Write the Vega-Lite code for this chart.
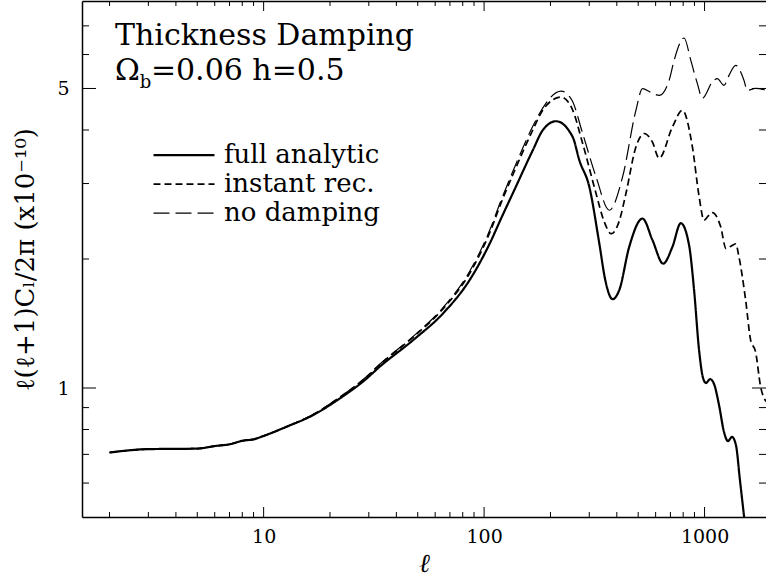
{
  "$schema": "https://vega.github.io/schema/vega-lite/v6.json",
  "width": 684,
  "height": 516,
  "autosize": {"type": "none"},
  "padding": {"left": 82, "top": 1, "right": 0, "bottom": 63},
  "background": "white",
  "config": {"view": {"stroke": null}, "font": "DejaVu Serif"},
  "datasets": {
    "xmaj": [{"v": 10}, {"v": 100}, {"v": 1000}],
    "xmin": [{"v": 2}, {"v": 3}, {"v": 4}, {"v": 5}, {"v": 6}, {"v": 7}, {"v": 8}, {"v": 9}, {"v": 20}, {"v": 30}, {"v": 40}, {"v": 50}, {"v": 60}, {"v": 70}, {"v": 80}, {"v": 90}, {"v": 200}, {"v": 300}, {"v": 400}, {"v": 500}, {"v": 600}, {"v": 700}, {"v": 800}, {"v": 900}],
    "ymaj": [{"v": 1}, {"v": 5}],
    "ymin": [{"v": 0.6}, {"v": 0.7}, {"v": 0.8}, {"v": 0.9}, {"v": 2}, {"v": 3}, {"v": 4}, {"v": 6}, {"v": 7}]
  },
  "data": {"values": [
    {"s": "full analytic", "l": 2, "c": 0.707},
    {"s": "full analytic", "l": 3, "c": 0.72},
    {"s": "full analytic", "l": 5, "c": 0.722},
    {"s": "full analytic", "l": 6, "c": 0.732},
    {"s": "full analytic", "l": 7, "c": 0.739},
    {"s": "full analytic", "l": 8.1, "c": 0.754},
    {"s": "full analytic", "l": 9, "c": 0.759},
    {"s": "full analytic", "l": 10, "c": 0.773},
    {"s": "full analytic", "l": 12.7, "c": 0.812},
    {"s": "full analytic", "l": 16.8, "c": 0.865},
    {"s": "full analytic", "l": 22.2, "c": 0.946},
    {"s": "full analytic", "l": 28.8, "c": 1.044},
    {"s": "full analytic", "l": 33.6, "c": 1.121},
    {"s": "full analytic", "l": 47.7, "c": 1.294},
    {"s": "full analytic", "l": 65.1, "c": 1.493},
    {"s": "full analytic", "l": 85.9, "c": 1.785},
    {"s": "full analytic", "l": 105.9, "c": 2.17},
    {"s": "full analytic", "l": 120, "c": 2.5},
    {"s": "full analytic", "l": 137, "c": 2.894},
    {"s": "full analytic", "l": 166.3, "c": 3.587},
    {"s": "full analytic", "l": 184.5, "c": 3.994},
    {"s": "full analytic", "l": 212.2, "c": 4.193},
    {"s": "full analytic", "l": 252.3, "c": 3.853},
    {"s": "full analytic", "l": 270.4, "c": 3.4},
    {"s": "full analytic", "l": 300.2, "c": 2.946},
    {"s": "full analytic", "l": 333.1, "c": 2.175},
    {"s": "full analytic", "l": 354.6, "c": 1.785},
    {"s": "full analytic", "l": 382.6, "c": 1.612},
    {"s": "full analytic", "l": 410.3, "c": 1.692},
    {"s": "full analytic", "l": 455.3, "c": 2.135},
    {"s": "full analytic", "l": 523.1, "c": 2.486},
    {"s": "full analytic", "l": 580.5, "c": 2.213},
    {"s": "full analytic", "l": 649, "c": 1.951},
    {"s": "full analytic", "l": 715, "c": 2.135},
    {"s": "full analytic", "l": 780.3, "c": 2.424},
    {"s": "full analytic", "l": 850.9, "c": 2.154},
    {"s": "full analytic", "l": 896.5, "c": 1.692},
    {"s": "full analytic", "l": 944.3, "c": 1.226},
    {"s": "full analytic", "l": 984.5, "c": 1.055},
    {"s": "full analytic", "l": 1015.7, "c": 1.027},
    {"s": "full analytic", "l": 1059, "c": 1.049},
    {"s": "full analytic", "l": 1104, "c": 1.022},
    {"s": "full analytic", "l": 1163, "c": 0.913},
    {"s": "full analytic", "l": 1225, "c": 0.79},
    {"s": "full analytic", "l": 1277, "c": 0.752},
    {"s": "full analytic", "l": 1332, "c": 0.769},
    {"s": "full analytic", "l": 1388, "c": 0.736},
    {"s": "full analytic", "l": 1447, "c": 0.61},
    {"s": "full analytic", "l": 1512, "c": 0.5},

    {"s": "instant rec.", "l": 2, "c": 0.707},
    {"s": "instant rec.", "l": 3, "c": 0.72},
    {"s": "instant rec.", "l": 5, "c": 0.722},
    {"s": "instant rec.", "l": 6, "c": 0.732},
    {"s": "instant rec.", "l": 7, "c": 0.739},
    {"s": "instant rec.", "l": 8.1, "c": 0.754},
    {"s": "instant rec.", "l": 9, "c": 0.759},
    {"s": "instant rec.", "l": 10, "c": 0.773},
    {"s": "instant rec.", "l": 12.7, "c": 0.812},
    {"s": "instant rec.", "l": 16.8, "c": 0.867},
    {"s": "instant rec.", "l": 22.2, "c": 0.952},
    {"s": "instant rec.", "l": 28.8, "c": 1.053},
    {"s": "instant rec.", "l": 33.6, "c": 1.133},
    {"s": "instant rec.", "l": 47.7, "c": 1.315},
    {"s": "instant rec.", "l": 65.1, "c": 1.53},
    {"s": "instant rec.", "l": 85.9, "c": 1.85},
    {"s": "instant rec.", "l": 105.9, "c": 2.3},
    {"s": "instant rec.", "l": 120, "c": 2.72},
    {"s": "instant rec.", "l": 137, "c": 3.2},
    {"s": "instant rec.", "l": 166.3, "c": 4.0},
    {"s": "instant rec.", "l": 184.5, "c": 4.45},
    {"s": "instant rec.", "l": 223.6, "c": 4.775},
    {"s": "instant rec.", "l": 250, "c": 4.5},
    {"s": "instant rec.", "l": 280, "c": 3.72},
    {"s": "instant rec.", "l": 322, "c": 2.843},
    {"s": "instant rec.", "l": 350, "c": 2.45},
    {"s": "instant rec.", "l": 377.5, "c": 2.291},
    {"s": "instant rec.", "l": 410, "c": 2.45},
    {"s": "instant rec.", "l": 439.9, "c": 2.843},
    {"s": "instant rec.", "l": 488.3, "c": 3.652},
    {"s": "instant rec.", "l": 532.4, "c": 3.925},
    {"s": "instant rec.", "l": 580, "c": 3.75},
    {"s": "instant rec.", "l": 622.5, "c": 3.437},
    {"s": "instant rec.", "l": 715, "c": 4.066},
    {"s": "instant rec.", "l": 793.5, "c": 4.446},
    {"s": "instant rec.", "l": 880.8, "c": 3.652},
    {"s": "instant rec.", "l": 944.3, "c": 2.802},
    {"s": "instant rec.", "l": 994.8, "c": 2.464},
    {"s": "instant rec.", "l": 1040, "c": 2.52},
    {"s": "instant rec.", "l": 1084.7, "c": 2.567},
    {"s": "instant rec.", "l": 1183.8, "c": 2.377},
    {"s": "instant rec.", "l": 1251.4, "c": 2.115},
    {"s": "instant rec.", "l": 1318, "c": 2.143},
    {"s": "instant rec.", "l": 1384.5, "c": 2.17},
    {"s": "instant rec.", "l": 1432.4, "c": 2.023},
    {"s": "instant rec.", "l": 1536, "c": 1.604},
    {"s": "instant rec.", "l": 1618, "c": 1.294},
    {"s": "instant rec.", "l": 1705, "c": 1.213},
    {"s": "instant rec.", "l": 1796, "c": 1.007},
    {"s": "instant rec.", "l": 1900, "c": 0.93},

    {"s": "no damping", "l": 2, "c": 0.707},
    {"s": "no damping", "l": 3, "c": 0.72},
    {"s": "no damping", "l": 5, "c": 0.722},
    {"s": "no damping", "l": 6, "c": 0.732},
    {"s": "no damping", "l": 7, "c": 0.739},
    {"s": "no damping", "l": 8.1, "c": 0.754},
    {"s": "no damping", "l": 9, "c": 0.759},
    {"s": "no damping", "l": 10, "c": 0.773},
    {"s": "no damping", "l": 12.7, "c": 0.812},
    {"s": "no damping", "l": 16.8, "c": 0.868},
    {"s": "no damping", "l": 22.2, "c": 0.953},
    {"s": "no damping", "l": 28.8, "c": 1.055},
    {"s": "no damping", "l": 33.6, "c": 1.136},
    {"s": "no damping", "l": 47.7, "c": 1.32},
    {"s": "no damping", "l": 65.1, "c": 1.54},
    {"s": "no damping", "l": 85.9, "c": 1.87},
    {"s": "no damping", "l": 105.9, "c": 2.33},
    {"s": "no damping", "l": 120, "c": 2.76},
    {"s": "no damping", "l": 137, "c": 3.26},
    {"s": "no damping", "l": 166.3, "c": 4.08},
    {"s": "no damping", "l": 178.3, "c": 4.37},
    {"s": "no damping", "l": 223.6, "c": 4.93},
    {"s": "no damping", "l": 250, "c": 4.7},
    {"s": "no damping", "l": 280, "c": 3.925},
    {"s": "no damping", "l": 322, "c": 3.109},
    {"s": "no damping", "l": 369.8, "c": 2.599},
    {"s": "no damping", "l": 424.8, "c": 3.109},
    {"s": "no damping", "l": 488.3, "c": 4.446},
    {"s": "no damping", "l": 523.1, "c": 4.996},
    {"s": "no damping", "l": 570, "c": 4.9},
    {"s": "no damping", "l": 622.5, "c": 4.819},
    {"s": "no damping", "l": 690.8, "c": 5.224},
    {"s": "no damping", "l": 727.8, "c": 5.816},
    {"s": "no damping", "l": 807.7, "c": 6.558},
    {"s": "no damping", "l": 866.2, "c": 5.816},
    {"s": "no damping", "l": 927.9, "c": 5.131},
    {"s": "no damping", "l": 977.2, "c": 4.742},
    {"s": "no damping", "l": 1084.7, "c": 5.176},
    {"s": "no damping", "l": 1142.6, "c": 5.272},
    {"s": "no damping", "l": 1225, "c": 5.085},
    {"s": "no damping", "l": 1291, "c": 5.365},
    {"s": "no damping", "l": 1384.5, "c": 5.661},
    {"s": "no damping", "l": 1509, "c": 5.224},
    {"s": "no damping", "l": 1562, "c": 4.95},
    {"s": "no damping", "l": 1705, "c": 5.004},
    {"s": "no damping", "l": 1900, "c": 4.95}
  ]},
  "layer": [
    {
      "mark": {"type": "line", "color": "black", "interpolate": "monotone"},
      "encoding": {
        "x": {
          "field": "l", "type": "quantitative",
          "scale": {"type": "log", "domain": [1.5, 1900], "nice": false},
          "axis": {
            "orient": "bottom",
            "values": [10, 100, 1000],
            "format": "d",
            "ticks": false,
            "domainColor": "black", "domainWidth": 1.5,
            "labelFont": "DejaVu Serif", "labelFontSize": 19, "labelColor": "black",
            "labelPadding": 10,
            "grid": false,
            "title": "ℓ", "titleFont": "DejaVu Serif", "titleFontStyle": "italic", "titleFontWeight": "normal",
            "titleFontSize": 26, "titleColor": "black", "titlePadding": 4
          }
        },
        "y": {
          "field": "c", "type": "quantitative",
          "scale": {"type": "log", "domain": [0.5, 8], "nice": false},
          "axis": {
            "orient": "left",
            "values": [1, 5],
            "format": "d",
            "ticks": false,
            "domainColor": "black", "domainWidth": 1.5,
            "labelFont": "DejaVu Serif", "labelFontSize": 19, "labelColor": "black",
            "labelPadding": 13,
            "grid": false,
            "title": "ℓ(ℓ+1)Cₗ/2π  (x10⁻¹⁰)", "titleFont": "DejaVu Serif", "titleFontWeight": "normal",
            "titleFontSize": 26, "titleColor": "black", "titlePadding": 18
          }
        },
        "strokeDash": {
          "field": "s", "type": "nominal",
          "scale": {"domain": ["full analytic", "instant rec.", "no damping"], "range": [[1, 0], [7, 4], [16, 6]]},
          "legend": {
            "title": null, "orient": "none", "legendX": 70, "legendY": 140,
            "symbolType": "stroke", "symbolSize": 3721, "symbolStrokeColor": "black",
            "labelFont": "DejaVu Serif", "labelFontSize": 26, "labelColor": "black",
            "labelOffset": 8, "clipHeight": 28.3, "rowPadding": 0, "padding": 0
          }
        },
        "strokeWidth": {
          "field": "s", "type": "nominal",
          "scale": {"domain": ["full analytic", "instant rec.", "no damping"], "range": [2.2, 1.2, 1.2]},
          "legend": {
            "title": null, "orient": "none", "legendX": 70, "legendY": 140,
            "symbolType": "stroke", "symbolSize": 3721, "symbolStrokeColor": "black",
            "labelFont": "DejaVu Serif", "labelFontSize": 26, "labelColor": "black",
            "labelOffset": 8, "clipHeight": 28.3, "rowPadding": 0, "padding": 0
          }
        }
      }
    },
    {
      "mark": {"type": "line", "opacity": 0},
      "encoding": {
        "x": {
          "field": "l", "type": "quantitative",
          "axis": {
            "orient": "top", "values": [10],
            "labels": false, "ticks": false,
            "domain": true, "domainColor": "black", "domainWidth": 1.5, "grid": false, "title": null
          }
        },
        "y": {"field": "c", "type": "quantitative", "axis": null}
      }
    },
    {
      "data": {"name": "xmaj"},
      "mark": {"type": "rule", "color": "black", "strokeWidth": 1},
      "encoding": {
        "x": {"field": "v", "type": "quantitative", "axis": null},
        "y": {"datum": 0.5, "type": "quantitative", "axis": null},
        "y2": {"datum": 0.5276}
      }
    },
    {
      "data": {"name": "xmin"},
      "mark": {"type": "rule", "color": "black", "strokeWidth": 1},
      "encoding": {
        "x": {"field": "v", "type": "quantitative", "axis": null},
        "y": {"datum": 0.5, "type": "quantitative", "axis": null},
        "y2": {"datum": 0.5136}
      }
    },
    {
      "data": {"name": "xmaj"},
      "mark": {"type": "rule", "color": "black", "strokeWidth": 1},
      "encoding": {
        "x": {"field": "v", "type": "quantitative", "axis": null},
        "y": {"datum": 8, "type": "quantitative", "axis": null},
        "y2": {"datum": 7.581}
      }
    },
    {
      "data": {"name": "xmin"},
      "mark": {"type": "rule", "color": "black", "strokeWidth": 1},
      "encoding": {
        "x": {"field": "v", "type": "quantitative", "axis": null},
        "y": {"datum": 8, "type": "quantitative", "axis": null},
        "y2": {"datum": 7.788}
      }
    },
    {
      "data": {"name": "ymaj"},
      "mark": {"type": "rule", "color": "black", "strokeWidth": 1},
      "encoding": {
        "y": {"field": "v", "type": "quantitative", "axis": null},
        "x": {"datum": 1.5, "type": "quantitative", "axis": null},
        "x2": {"datum": 1.736}
      }
    },
    {
      "data": {"name": "ymin"},
      "mark": {"type": "rule", "color": "black", "strokeWidth": 1},
      "encoding": {
        "y": {"field": "v", "type": "quantitative", "axis": null},
        "x": {"datum": 1.5, "type": "quantitative", "axis": null},
        "x2": {"datum": 1.614}
      }
    },
    {
      "data": {"name": "ymaj"},
      "mark": {"type": "rule", "color": "black", "strokeWidth": 1},
      "encoding": {
        "y": {"field": "v", "type": "quantitative", "axis": null},
        "x": {"datum": 1900, "type": "quantitative", "axis": null},
        "x2": {"datum": 1641.5}
      }
    },
    {
      "data": {"name": "ymin"},
      "mark": {"type": "rule", "color": "black", "strokeWidth": 1},
      "encoding": {
        "y": {"field": "v", "type": "quantitative", "axis": null},
        "x": {"datum": 1900, "type": "quantitative", "axis": null},
        "x2": {"datum": 1766}
      }
    },
    {
      "data": {"values": [{}]},
      "mark": {"type": "text", "text": "Thickness Damping", "align": "left", "baseline": "alphabetic", "font": "DejaVu Serif", "fontSize": 30, "color": "black"},
      "encoding": {
        "x": {"datum": 2.118, "type": "quantitative", "axis": null},
        "y": {"datum": 6.32, "type": "quantitative", "axis": null}
      }
    },
    {
      "data": {"values": [{}]},
      "mark": {"type": "text", "text": "Ω", "align": "left", "baseline": "alphabetic", "font": "DejaVu Serif", "fontSize": 30, "color": "black"},
      "encoding": {
        "x": {"datum": 2.118, "type": "quantitative", "axis": null},
        "y": {"datum": 5.234, "type": "quantitative", "axis": null}
      }
    },
    {
      "data": {"values": [{}]},
      "mark": {"type": "text", "text": "b", "align": "left", "baseline": "alphabetic", "font": "DejaVu Serif", "fontSize": 18, "color": "black"},
      "encoding": {
        "x": {"datum": 2.74, "type": "quantitative", "axis": null},
        "y": {"datum": 5.0, "type": "quantitative", "axis": null}
      }
    },
    {
      "data": {"values": [{}]},
      "mark": {"type": "text", "text": "=0.06 h=0.5", "align": "left", "baseline": "alphabetic", "font": "DejaVu Serif", "fontSize": 30, "color": "black"},
      "encoding": {
        "x": {"datum": 3.08, "type": "quantitative", "axis": null},
        "y": {"datum": 5.234, "type": "quantitative", "axis": null}
      }
    }
  ],
  "resolve": {"axis": {"x": "independent", "y": "independent"}}
}
